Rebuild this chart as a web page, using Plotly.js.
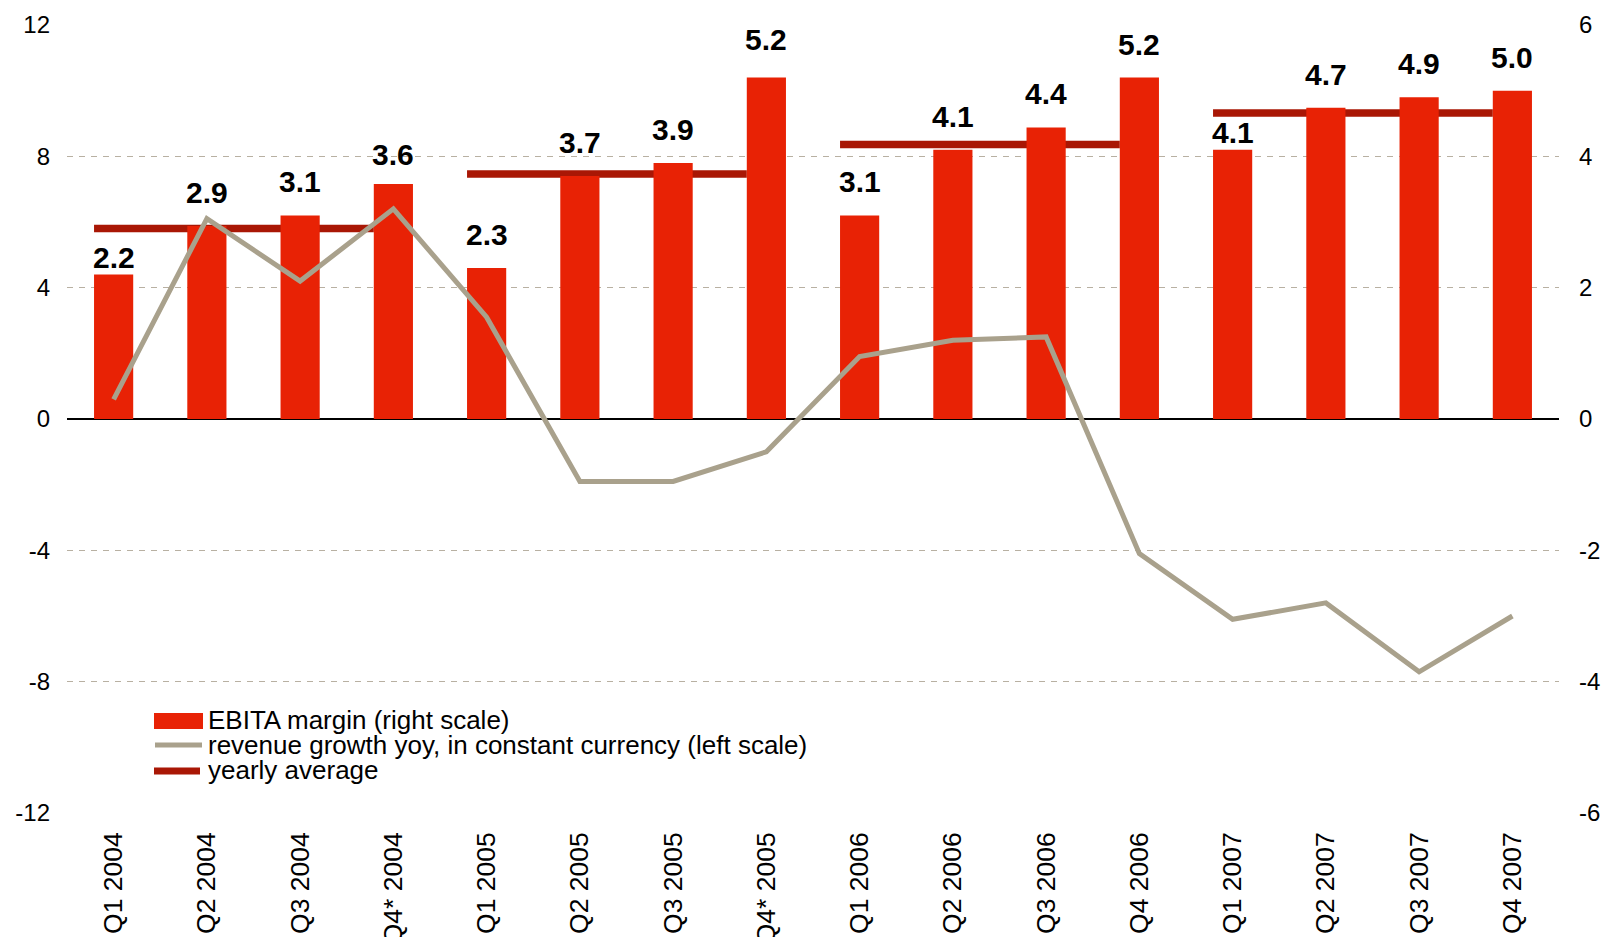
<!DOCTYPE html>
<html>
<head>
<meta charset="utf-8">
<script src="https://cdn.plot.ly/plotly-3.0.1.min.js"></script>
<style>html,body{margin:0;padding:0;background:#fff;}#chart{width:1603px;height:937px;}</style>
</head>
<body>
<div id="chart"></div>
<script>
// ---- data ----
const quarters = ["Q1 2004","Q2 2004","Q3 2004","Q4* 2004","Q1 2005","Q2 2005","Q3 2005","Q4* 2005",
                  "Q1 2006","Q2 2006","Q3 2006","Q4 2006","Q1 2007","Q2 2007","Q3 2007","Q4 2007"];
const ebitaMargin = [2.2, 2.94, 3.1, 3.58, 2.3, 3.7, 3.9, 5.2, 3.1, 4.1, 4.44, 5.2, 4.1, 4.74, 4.9, 5.0];
const revenueGrowth = [0.6, 6.1, 4.2, 6.4, 3.1, -1.9, -1.9, -1.0, 1.9, 2.4, 2.5, -4.1, -6.1, -5.6, -7.7, -6.0];
const yearStartIndex = [0, 4, 8, 12];
const yearlyAverage = [2.9, 3.73, 4.18, 4.66];
const leftTicks = [-12, -8, -4, 0, 4, 8, 12];
const rightTicks = [-6, -4, -2, 0, 2, 4, 6];
const legendLabels = ["EBITA margin (right scale)", "revenue growth yoy, in constant currency (left scale)", "yearly average"];

// ---- styles ----
const RED = "#E82205", DARKRED = "#A91705", GREY = "#A9A18C", GRID = "#B8B0A2";
const FONT = "Liberation Sans, Arial, sans-serif";
const BARW = 0.42;
// extra gap of value labels above bar tops (px)
const labelShift = quarters.map((q, i) => {
  if (i === 0 || i === 12) return -1;
  if (i === 3) return 11;
  if (i === 7) return 20;
  return 15;
});

const xIdx = quarters.map((q, i) => i);

const traces = [
  {
    type: "bar", x: xIdx, y: ebitaMargin, yaxis: "y", width: BARW,
    marker: {color: RED}, showlegend: false, hoverinfo: "x+y"
  },
  {
    type: "scatter", mode: "lines", x: xIdx, y: revenueGrowth, yaxis: "y2",
    line: {color: GREY, width: 5}, showlegend: false
  }
];

const shapes = [];
yearStartIndex.forEach((s, k) => {
  shapes.push({
    type: "line", xref: "x", yref: "y", layer: "below",
    x0: s - BARW / 2, x1: s + 3 - BARW / 2, y0: yearlyAverage[k], y1: yearlyAverage[k],
    line: {color: DARKRED, width: 7.5}
  });
});

// custom legend (plot area: x 67..1559, y 25..813)
const PX0 = 67, PW = 1492, PY1 = 813, PH = 788;
const px = v => (v - PX0) / PW, py = v => (PY1 - v) / PH;
shapes.push({type: "rect", xref: "paper", yref: "paper", x0: px(154), x1: px(203), y0: py(729), y1: py(713),
             fillcolor: RED, line: {width: 0}});
shapes.push({type: "line", xref: "paper", yref: "paper", x0: px(155), x1: px(202), y0: py(745), y1: py(745),
             line: {color: GREY, width: 5}});
shapes.push({type: "line", xref: "paper", yref: "paper", x0: px(154), x1: px(200), y0: py(771), y1: py(771),
             line: {color: DARKRED, width: 7}});

const annotations = [];
ebitaMargin.forEach((v, i) => {
  annotations.push({
    x: i, y: v, xref: "x", yref: "y", text: v.toFixed(1), showarrow: false,
    xanchor: "center", yanchor: "bottom", yshift: labelShift[i],
    font: {family: FONT, size: 30, color: "#000", weight: "bold"}
  });
});
const legendY = [720, 745, 770];
legendLabels.forEach((t, k) => {
  annotations.push({
    x: px(206), y: py(legendY[k]), xref: "paper", yref: "paper", text: t, showarrow: false,
    xanchor: "left", yanchor: "middle", font: {family: FONT, size: 26, color: "#000"}
  });
});

const layout = {
  width: 1603, height: 937,
  margin: {l: 67, r: 44, t: 25, b: 124},
  paper_bgcolor: "#fff", plot_bgcolor: "#fff",
  showlegend: false,
  xaxis: {
    type: "linear", range: [-0.5, 15.5], tickvals: xIdx, ticktext: quarters, tickangle: -90,
    showgrid: false, zeroline: false, showline: false, ticks: "",
    tickfont: {family: FONT, size: 26.5, color: "#000"}, ticklabelstandoff: 13, fixedrange: true
  },
  yaxis: {
    side: "right", range: [-6, 6], tickvals: rightTicks, ticktext: rightTicks.map(String),
    showgrid: true, gridcolor: GRID, gridwidth: 1, griddash: "6px,6px",
    zeroline: true, zerolinecolor: "#000", zerolinewidth: 1.5,
    showline: false, ticks: "", tickfont: {family: FONT, size: 24, color: "#000"}, ticklabelstandoff: 19
  },
  yaxis2: {
    side: "left", overlaying: "y", range: [-12, 12], tickvals: leftTicks, ticktext: leftTicks.map(String),
    showgrid: false, zeroline: false, showline: false, ticks: "",
    tickfont: {family: FONT, size: 24, color: "#000"}, ticklabelstandoff: 16
  },
  shapes: shapes,
  annotations: annotations
};

Plotly.newPlot("chart", traces, layout, {displayModeBar: false, staticPlot: true});
</script>
</body>
</html>
